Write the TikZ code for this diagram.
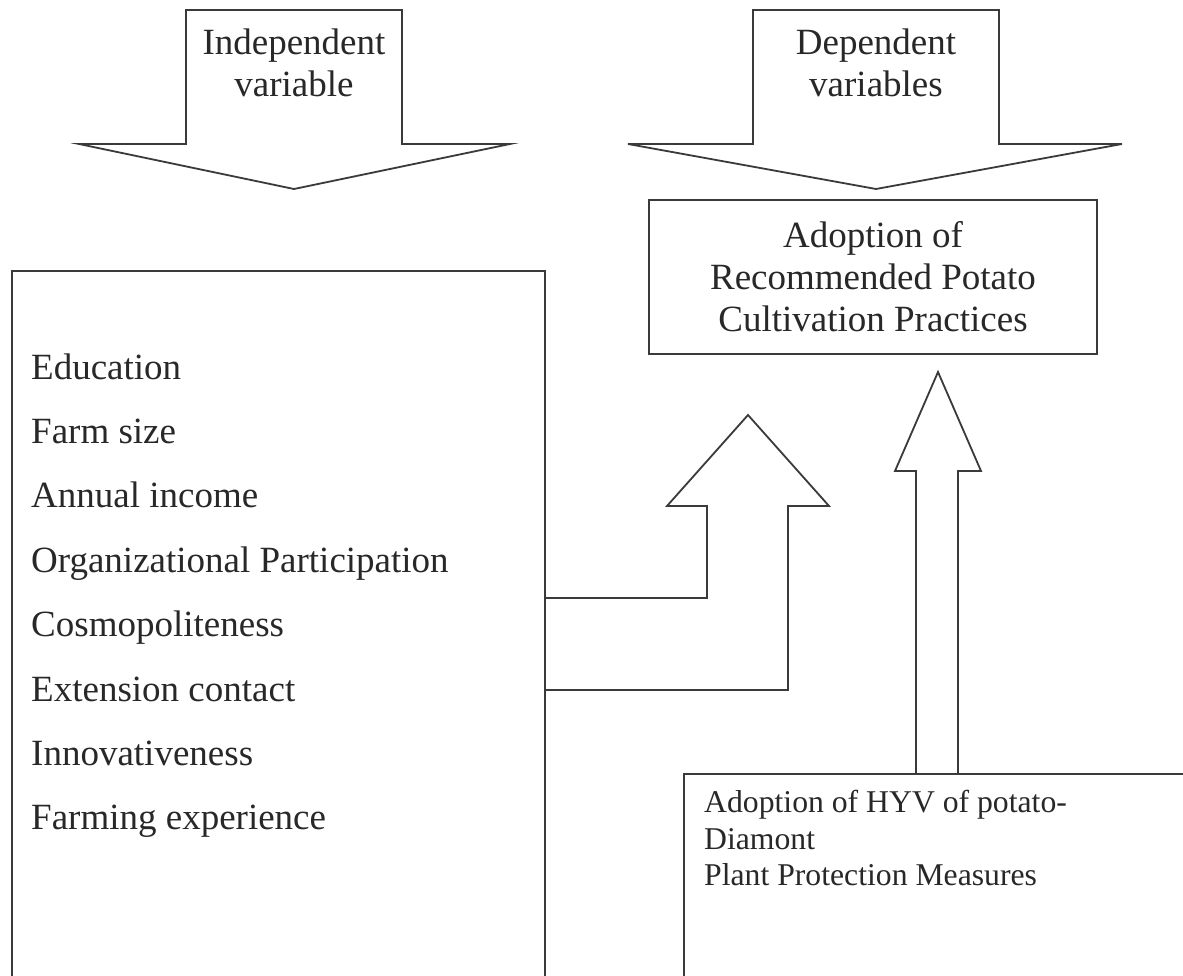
\documentclass[tikz,border=0pt]{standalone}
\usepackage{fontspec}
\setmainfont{Liberation Serif}
\usetikzlibrary{positioning,calc}
\definecolor{InkGrey}{RGB}{58,58,58}
\definecolor{TextGrey}{RGB}{40,40,40}
\tikzset{
  outline/.style={draw=InkGrey,line width=1.8pt,line join=miter},
  frame/.style={draw=InkGrey,line width=1.8pt,inner sep=0pt},
  heading/.style={font=\fontsize{37pt}{42pt}\selectfont,text=TextGrey,
    align=center,inner sep=0pt},
  factor/.style={font=\fontsize{37pt}{64pt}\selectfont,text=TextGrey,
    inner sep=0pt,text height=26pt,text depth=8pt},
  smalltext/.style={font=\fontsize{31.7pt}{36.5pt}\selectfont,text=TextGrey,
    align=left,inner sep=0pt}
}

\begin{document}
\begin{tikzpicture}[x=1pt,y=-1pt]
  \useasboundingbox[fill=white] (0,0) rectangle (1183,976);
  % top arrows
  \node[heading] (indep) at (294,63) {Independent\\variable};
  \node[heading] (dep) at (876,63) {Dependent\\variables};
  \draw[outline] (186,10) -- (402,10) -- (402,144) -- (510,144) -- (294,189)
    -- (79,144) -- (186,144) -- cycle;
  \draw[outline] (753,10) -- (999,10) -- (999,144) -- (1122,144) -- (876,189)
    -- (628,144) -- (753,144) -- cycle;
  % boxes
  \node[frame,heading,minimum width=448pt,minimum height=154pt] (adopt) at (873,277)
    {Adoption of\\Recommended Potato\\Cultivation Practices};
  \node[frame,minimum width=533pt,minimum height=760pt,anchor=north west] (leftbox) at (11,270) {};
  \node[frame,minimum width=560pt,minimum height=260pt,anchor=north west] (hyv) at (683,773) {};
  \node[smalltext,anchor=north west] (hyvtext) at (704,790)
    {Adoption of HYV of potato-\\Diamont\\Plant Protection Measures};
  % independent variables
  \node[factor,anchor=base west] (edu) at (31,379) {Education};
  \node[factor,below=30pt of edu.south west,anchor=north west] (farm) {Farm size};
  \node[factor,below=30pt of farm.south west,anchor=north west] (income) {Annual income};
  \node[factor,below=30pt of income.south west,anchor=north west] (org) {Organizational Participation};
  \node[factor,below=30pt of org.south west,anchor=north west] (cosmo) {Cosmopoliteness};
  \node[factor,below=30pt of cosmo.south west,anchor=north west] (ext) {Extension contact};
  \node[factor,below=30pt of ext.south west,anchor=north west] (innov) {Innovativeness};
  \node[factor,below=30pt of innov.south west,anchor=north west] (exper) {Farming experience};
  % up arrows
  \draw[outline] (leftbox.east |- 0,598) -- (707,598) -- (707,506) -- (667,506) -- (748,415)
    -- (829,506) -- (788,506) -- (788,690) -- (leftbox.east |- 0,690);
  \draw[outline] (hyv.north -| 916,0) -- (916,471) -- (895,471) -- (938,372)
    -- (981,471) -- (958,471) -- (hyv.north -| 958,0);
\end{tikzpicture}
\end{document}
